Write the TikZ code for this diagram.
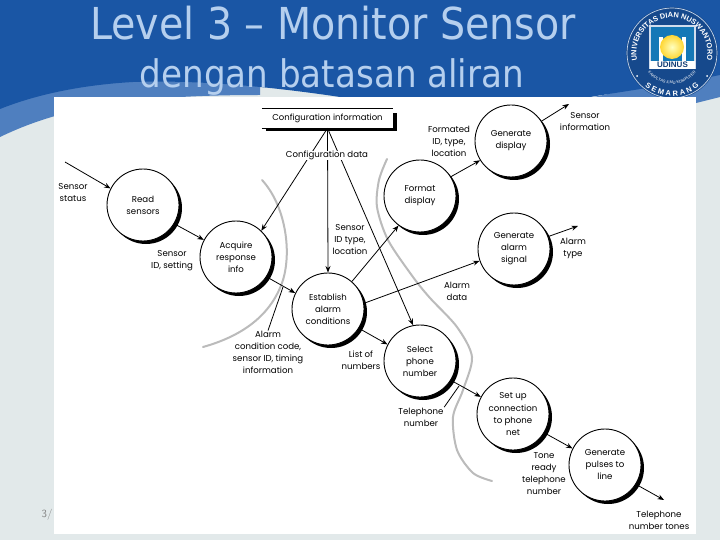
\documentclass[tikz,border=0pt]{standalone}
\usepackage{fontspec}
\setmainfont{Poppins}
\newfontfamily\titlefont{DejaVu Sans Condensed}
\newfontfamily\logofont{Liberation Sans}[BoldFont={Liberation Sans Bold}]
\usetikzlibrary{shadows,arrows.meta,decorations.text}
\definecolor{bgc}{HTML}{E2E9EA}
\definecolor{darkb}{HTML}{1A56A5}
\definecolor{lightb}{HTML}{4F7FBF}
\definecolor{titlec}{HTML}{B5CFEE}
\definecolor{grayc}{HTML}{BBBBBB}
\tikzset{
  proc/.style={circle,draw=black,fill=white,line width=0.9pt,minimum size=72pt,inner sep=0pt,align=center,
    font=\fontsize{8.6}{12}\selectfont,general shadow={shadow xshift=3pt,shadow yshift=-3pt,fill=black}},
  lab/.style={align=center,inner sep=0.5pt,font=\fontsize{8.6}{12}\selectfont},
  flow/.style={draw=black,line width=0.8pt,-{Stealth[length=6.5pt,width=5pt]}},
  leader/.style={draw=black,line width=0.8pt},
  bound/.style={draw=grayc,line width=2pt,line cap=round},
  titleline/.style={text=titlec,inner sep=0pt,anchor=center},
  logotext/.style={decorate,decoration={text along path,text align=center,text color=white,text={#1}}}
}
\begin{document}
\begin{tikzpicture}[x=1pt,y=-1pt]
\useasboundingbox (0,0) rectangle (720,540);
% background
\fill[bgc] (0,0) rectangle (720,540);
\fill[lightb] (0,137) .. controls (60,108) and (130,95) .. (260,95) -- (260,60) -- (0,60) -- cycle;
\fill[lightb] (580,100) -- (720,70) -- (720,97) -- (696,103) -- cycle;
\fill[darkb] (0,0) -- (720,0) -- (720,75) .. controls (670,85) and (620,92) .. (590,97) -- (340,97)
  .. controls (260,85) and (190,80) .. (133,82) .. controls (80,85) and (35,95) .. (0,109) -- cycle;
\node[titleline,font=\titlefont\fontsize{44}{44}\selectfont] (t1) at (333,23.5) {Level 3 – Monitor Sensor};
\node[titleline,font=\titlefont\fontsize{38}{38}\selectfont] (t2) at (332,77) {dengan batasan aliran};
\node[text=gray,font=\sffamily\fontsize{11}{11}\selectfont,inner sep=0pt] (foot) at (47,515) {3/};
% logo
\begin{scope}[shift={(672,53)},y=1pt]
  \fill[darkb!85!black] (0,0) circle (46);
  \draw[white!75!darkb,line width=0.7pt] (0,0) circle (45);
  \fill[white!80!darkb] (-23,-16) rectangle (24,28);
  \fill[darkb!80!cyan] (-21,-14) rectangle (22,26);
  \fill[white] (-13,-9) rectangle (14,16);
  \fill[darkb!80!cyan] (-9,-12) rectangle (10,16);
  \shade[inner color=yellow!25,outer color=yellow!60!orange!80] (0,6) circle (12);
  \fill[white] (-22,-16) rectangle (23,-8);
  \node[text=darkb!70!black,inner sep=0pt,font=\logofont\bfseries\fontsize{8}{8}\selectfont] (udinus) at (0.5,-12) {UDINUS};
  \path[logotext={|\logofont\bfseries\fontsize{7.4}{7.4}\selectfont|UNIVERSITAS DIAN NUSWANTORO}] (205:35.5) arc (205:-25:35.5);
  \path[logotext={|\logofont\bfseries\fontsize{7.5}{7.5}\selectfont|S E M A R A N G}] (232:43) arc (232:308:43);
  \path[logotext={|\logofont\fontsize{4}{4}\selectfont|FAKULTAS ILMU KOMPUTER}] (200:31) arc (200:340:31);
  \fill[white] (-35,-23) circle (1);
  \fill[white] (35,-23) circle (1);
\end{scope}
% white sheet
\fill[white] (54,97) rectangle (696,534);
% system boundary curves
\draw[bound] (262,180) .. controls (285,205) and (292,250) .. (283,280) .. controls (270,320) and (235,338) .. (203,347);
\draw[bound] plot[smooth] coordinates {(387,159) (379,180) (377,207) (388,240) (413,277) (430,298) (457,327) (472,357) (463,390) (453,417) (457,450) (473,473) (492,481)};
% store
\node[lab,minimum width=131pt,minimum height=19pt,inner sep=0pt,font=\fontsize{8.5}{12}\selectfont] (store) at (327.5,118.5) {Configuration information};
\draw[line width=0.8pt] (store.north west) -- (store.north east);
\draw[line width=0.8pt] (store.south west) -- (store.south east);
\fill[black] (266,128) rectangle (397,131);
\fill[black] (393,113) rectangle (397,131);
% processes
\node[proc] (read) at (143,205) {Read\\sensors};
\node[proc] (acq) at (236,257) {Acquire\\response\\info};
\node[proc] (est) at (328,309) {Establish\\alarm\\conditions};
\node[proc] (sel) at (420,361) {Select\\phone\\number};
\node[proc] (setup) at (513,414) {Set up\\connection\\to phone\\net};
\node[proc] (pulse) at (605,465) {Generate\\pulses to\\line};
\node[proc] (fmt) at (420,196) {Format\\display};
\node[proc] (gdisp) at (511,141) {Generate\\display};
\node[proc] (galarm) at (514,249) {Generate\\alarm\\signal};
% free ends
\coordinate (inS) at (65,162);
\coordinate (outT) at (664,500);
\coordinate (outD) at (569,104);
\coordinate (outA) at (578,226);
\coordinate (leadA) at (283,287);
\coordinate (leadT) at (459,386);
% flows
\draw[flow] (store.south) -- (acq.46);
\draw[flow] (store.south) -- (est.90);
\draw[flow] (store.south) -- (sel.101);
\draw[flow] (inS) -- (read.153);
\draw[flow] (read.-31) -- (acq.152);
\draw[flow] (acq.-33) -- (est.154);
\draw[flow] (est.49) -- (fmt.234);
\draw[flow] (est.9) -- (galarm.199);
\draw[flow] (est.-32) -- (sel.153);
\draw[flow] (sel.-32) -- (setup.152);
\draw[flow] (setup.-31) -- (pulse.153);
\draw[flow] (pulse.-32) -- (outT);
\draw[flow] (fmt.32) -- (gdisp.212);
\draw[flow] (gdisp.33) -- (outD);
\draw[flow] (galarm.20) -- (outA);
% labels
\node[lab,fill=white,inner xsep=2pt] (cfg) at (327,155.5) {Configuration data};
\node[lab] (lstatus) at (73,192.5) {Sensor\\status};
\node[lab] (lsid) at (172,261) {Sensor\\ID, setting};
\node[lab] (ltype) at (350,240) {Sensor\\ID type,\\location};
\node[lab] (lfmt) at (449,141.5) {Formated\\ID, type,\\location};
\node[lab] (linfo) at (585,121.5) {Sensor\\information};
\node[lab] (ltyp) at (573,248) {Alarm\\type};
\node[lab] (ldata) at (457,291.5) {Alarm\\data};
\node[lab] (lcond) at (268,352.5) {Alarm\\condition code,\\sensor ID, timing\\information};
\node[lab] (llist) at (361,360) {List of\\numbers};
\node[lab] (ltel) at (421,417) {Telephone\\number};
\node[lab] (ltone) at (544,474) {Tone\\ready\\telephone\\number};
\node[lab] (lout) at (659,520) {Telephone\\number tones};
% leaders
\draw[leader] (leadA) -- (lcond.north);
\draw[leader] (leadT) -- (ltel.north east);
\end{tikzpicture}
\end{document}
